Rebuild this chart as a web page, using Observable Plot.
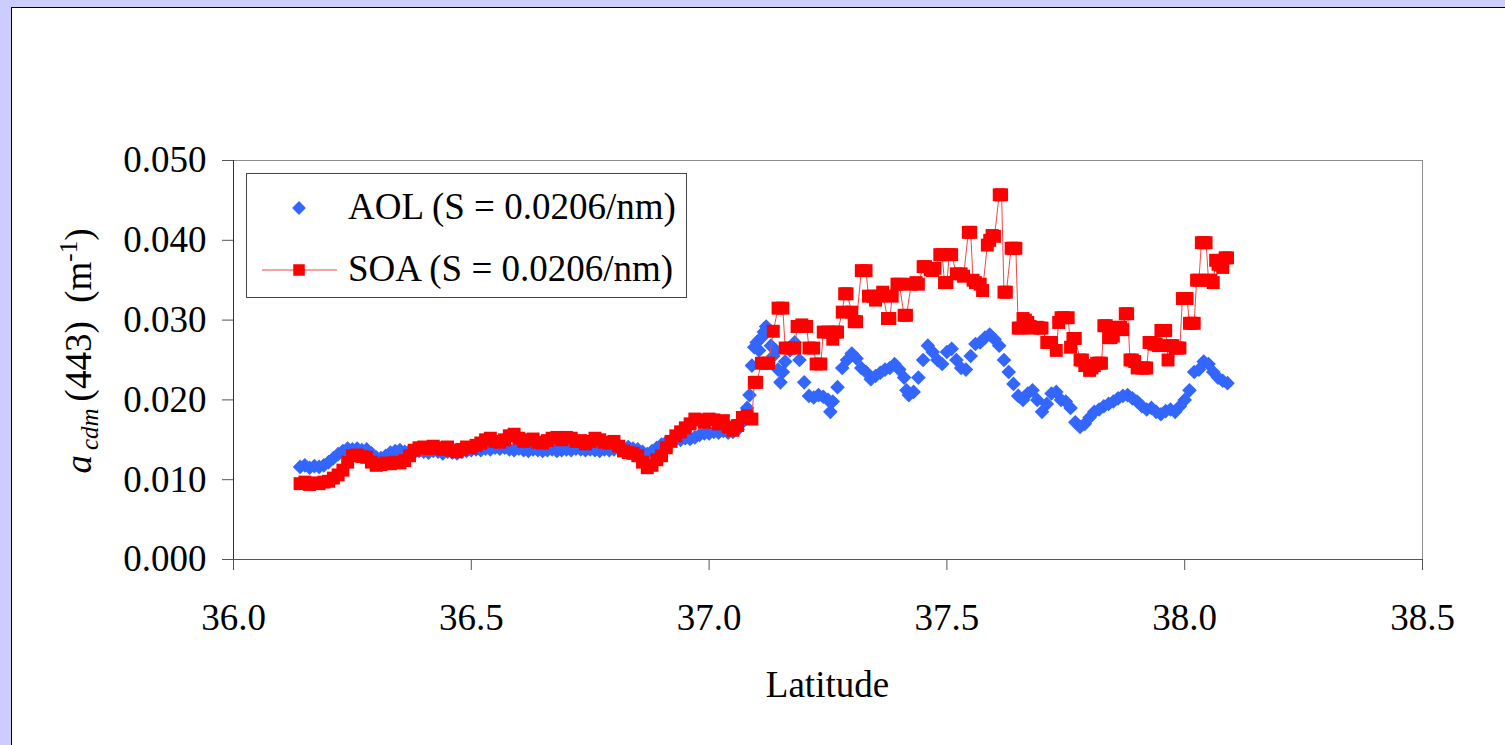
<!DOCTYPE html>
<html>
<head>
<meta charset="utf-8">
<script src="https://cdn.jsdelivr.net/npm/d3@7"></script>
<script src="https://cdn.jsdelivr.net/npm/@observablehq/plot@0.6"></script>
<style>
  html, body { margin: 0; padding: 0; width: 1505px; height: 745px; overflow: hidden; background: #ccccff; }
  #panel { position: absolute; left: 11px; top: 7px; right: 0; bottom: 0; background: #fff; border-left: 1.5px solid #000; border-top: 1.5px solid #000; }
  #chart { position: absolute; left: 0; top: 0; }
</style>
</head>
<body>
<div id="panel"></div>
<div id="chart"></div>
<script>
// ---------- data ----------
const xTicks = [36.0, 36.5, 37.0, 37.5, 38.0, 38.5];
const yTicks = [0.000, 0.010, 0.020, 0.030, 0.040, 0.050];
const seriesNames = ["AOL (S = 0.0206/nm)", "SOA (S = 0.0206/nm)"];

const aolLat = [
36.14,36.15,36.16,36.17,36.18,36.19,36.20,36.21,36.22,36.23,36.24,36.25,36.26,36.27,36.28,36.29,
36.30,36.31,36.32,36.33,36.34,36.35,36.36,36.37,36.38,36.39,36.40,36.41,36.42,36.43,36.44,36.45,
36.46,36.47,36.48,36.49,36.50,36.51,36.52,36.53,36.54,36.55,36.56,36.57,36.58,36.59,36.60,36.61,
36.62,36.63,36.64,36.65,36.66,36.67,36.68,36.69,36.70,36.71,36.72,36.73,36.74,36.75,36.76,36.77,
36.78,36.79,36.80,36.81,36.82,36.83,36.84,36.85,36.86,36.87,36.88,36.89,36.90,36.91,36.92,36.93,
36.94,36.95,36.96,36.97,36.98,36.99,37.00,37.01,37.02,37.03,37.04,37.05,37.06,37.07,37.08,
37.085,37.09,37.095,37.10,37.105,37.11,37.115,37.12,37.125,37.13,37.135,37.14,37.145,37.15,37.155,
37.16,37.17,37.18,37.19,37.20,37.21,37.22,37.23,37.24,37.25,37.255,37.26,37.27,37.28,37.29,37.30,
37.31,37.32,37.33,37.34,37.35,37.36,37.37,37.38,37.39,37.40,37.41,37.415,37.42,37.43,37.44,37.45,
37.46,37.47,37.48,37.49,37.50,37.51,37.52,37.53,37.54,37.55,37.56,37.57,37.58,37.59,37.60,37.61,
37.62,37.63,37.64,37.65,37.66,37.67,37.68,37.69,37.70,37.71,37.72,37.73,37.74,37.75,37.76,37.77,
37.78,37.79,37.80,37.81,37.82,37.83,37.84,37.85,37.86,37.87,37.88,37.89,37.90,37.91,37.92,37.93,
37.94,37.95,37.96,37.97,37.98,37.99,38.00,38.01,38.02,38.03,38.04,38.05,38.06,38.07,38.08,38.09
];
const aolVal = [
0.0116,0.0118,0.0115,0.0117,0.0116,0.0118,0.0122,0.0127,0.0132,0.0136,0.0139,0.0138,0.0139,0.0137,0.0138,0.0133,
0.0128,0.0127,0.0130,0.0134,0.0136,0.0137,0.0135,0.0136,0.0134,0.0136,0.0135,0.0134,0.0136,0.0135,0.0133,0.0135,
0.0134,0.0133,0.0135,0.0136,0.0137,0.0138,0.0137,0.0139,0.0138,0.0140,0.0139,0.0140,0.0138,0.0137,0.0139,0.0137,
0.0136,0.0138,0.0137,0.0136,0.0137,0.0138,0.0136,0.0137,0.0138,0.0137,0.0139,0.0138,0.0137,0.0138,0.0137,0.0136,
0.0138,0.0137,0.0138,0.0139,0.0140,0.0141,0.0139,0.0138,0.0135,0.0132,0.0136,0.0140,0.0144,0.0147,0.0149,0.0151,
0.0150,0.0152,0.0151,0.0153,0.0156,0.0158,0.0158,0.0160,0.0159,0.0161,0.0159,0.0160,0.0163,0.0172,0.0190,
0.0206,0.0243,0.0266,0.0272,0.0262,0.0278,0.0285,0.0292,0.0288,0.0268,0.0255,0.0262,0.0238,0.0222,0.0235,
0.0248,0.0262,0.0272,0.0250,0.0222,0.0205,0.0203,0.0206,0.0204,0.0200,0.0185,0.0198,0.0216,0.0240,0.0250,0.0258,
0.0252,0.0240,0.0235,0.0226,0.0230,0.0234,0.0238,0.0240,0.0245,0.0238,0.0228,0.0212,0.0206,0.0210,0.0228,0.0250,
0.0268,0.0260,0.0250,0.0245,0.0260,0.0264,0.0250,0.0240,0.0238,0.0255,0.0270,0.0272,0.0278,0.0282,0.0276,0.0268,
0.0250,0.0235,0.0220,0.0205,0.0200,0.0208,0.0212,0.0200,0.0185,0.0195,0.0208,0.0210,0.0200,0.0198,0.0190,0.0172,
0.0166,0.0170,0.0178,0.0185,0.0188,0.0192,0.0195,0.0198,0.0202,0.0205,0.0206,0.0202,0.0198,0.0192,0.0188,0.0190,
0.0185,0.0182,0.0186,0.0188,0.0185,0.0192,0.0200,0.0212,0.0235,0.0238,0.0248,0.0245,0.0235,0.0228,0.0224,0.0221
];

const soaLat = [
36.14,36.15,36.16,36.17,36.18,36.19,36.20,36.21,36.22,36.23,36.24,36.25,36.26,36.27,36.28,36.29,
36.30,36.31,36.32,36.33,36.34,36.35,36.36,36.37,36.38,36.39,36.40,36.41,36.42,36.43,36.44,36.45,
36.46,36.47,36.48,36.49,36.50,36.51,36.52,36.53,36.54,36.55,36.56,36.57,36.58,36.59,36.60,36.61,
36.62,36.63,36.64,36.65,36.66,36.67,36.68,36.69,36.70,36.71,36.72,36.73,36.74,36.75,36.76,36.77,
36.78,36.79,36.80,36.81,36.82,36.83,36.84,36.85,36.86,36.87,36.88,36.89,36.90,36.91,36.92,36.93,
36.94,36.95,36.96,36.97,36.98,36.99,37.00,37.01,37.02,37.03,37.04,37.05,37.06,37.07,
37.08,37.09,37.095,37.10,37.11,37.12,37.125,37.135,37.145,37.155,37.16,37.17,37.18,37.185,37.195,37.205,
37.21,37.22,37.225,37.235,37.24,37.25,37.26,37.265,37.27,37.28,37.285,37.29,37.30,37.305,37.31,37.32,
37.33,37.335,37.345,37.35,37.36,37.365,37.375,37.38,37.385,37.395,37.40,37.41,37.415,37.425,37.435,37.44,
37.45,37.455,37.465,37.47,37.475,37.485,37.49,37.495,37.50,37.505,37.51,37.52,37.53,37.535,37.545,37.55,
37.555,37.56,37.57,37.575,37.585,37.59,37.595,37.60,37.61,37.615,37.62,37.625,37.635,37.64,37.645,37.65,
37.655,37.66,37.665,37.67,37.675,37.68,37.69,37.695,37.70,37.71,37.715,37.72,37.73,37.735,37.74,37.745,
37.755,37.76,37.765,37.77,37.78,37.785,37.79,37.80,37.805,37.81,37.815,37.82,37.825,37.83,37.835,37.84,
37.845,37.85,37.86,37.865,37.87,37.875,37.88,37.885,37.89,37.895,37.90,37.91,37.915,37.92,37.925,37.93,
37.935,37.94,37.945,37.95,37.955,37.96,37.965,37.97,37.975,37.98,37.985,37.99,37.995,38.00,38.005,38.01,
38.015,38.02,38.025,38.03,38.035,38.04,38.045,38.05,38.055,38.06,38.065,38.07,38.075,38.08,38.085,38.09
];
const soaVal = [
0.0095,0.0097,0.0094,0.0096,0.0095,0.0097,0.0098,0.0102,0.0106,0.0112,0.0122,0.0130,0.0131,0.0129,0.0128,0.0122,
0.0118,0.0119,0.0121,0.0120,0.0122,0.0121,0.0124,0.0130,0.0137,0.0140,0.0141,0.0139,0.0142,0.0140,0.0138,0.0141,
0.0137,0.0135,0.0138,0.0141,0.0140,0.0143,0.0146,0.0150,0.0152,0.0148,0.0147,0.0150,0.0155,0.0157,0.0152,0.0148,
0.0150,0.0151,0.0147,0.0146,0.0149,0.0152,0.0153,0.0150,0.0153,0.0152,0.0148,0.0149,0.0145,0.0148,0.0152,0.0150,
0.0147,0.0146,0.0148,0.0142,0.0136,0.0134,0.0133,0.0130,0.0122,0.0115,0.0118,0.0125,0.0130,0.0140,0.0148,0.0155,
0.0160,0.0165,0.0170,0.0176,0.0175,0.0172,0.0176,0.0175,0.0170,0.0174,0.0166,0.0162,0.0168,0.0178,
0.0180,0.0176,0.0222,0.0222,0.0246,0.0246,0.0246,0.0286,0.0315,0.0315,0.0265,0.0265,0.0265,0.0292,0.0294,0.0292,
0.0265,0.0265,0.0245,0.0245,0.0285,0.0285,0.0276,0.0285,0.0285,0.0310,0.0333,0.0333,0.0310,0.0298,0.0298,0.0362,
0.0362,0.0330,0.0330,0.0325,0.0330,0.0335,0.0302,0.0302,0.0330,0.0345,0.0345,0.0306,0.0306,0.0345,0.0347,0.0345,
0.0367,0.0367,0.0363,0.0362,0.0365,0.0382,0.0382,0.0347,0.0347,0.0382,0.0382,0.0358,0.0358,0.0355,0.0410,0.0410,
0.0350,0.0347,0.0345,0.0337,0.0394,0.0400,0.0406,0.0405,0.0457,0.0457,0.0335,0.0335,0.0390,0.0390,0.0390,0.0290,
0.0290,0.0302,0.0300,0.0297,0.0292,0.0290,0.0291,0.0290,0.0290,0.0272,0.0272,0.0272,0.0262,0.0297,0.0303,0.0303,
0.0303,0.0266,0.0277,0.0277,0.0250,0.0250,0.0243,0.0237,0.0240,0.0243,0.0246,0.0246,0.0246,0.0293,0.0293,0.0278,
0.0278,0.0280,0.0291,0.0291,0.0288,0.0308,0.0308,0.0250,0.0250,0.0248,0.0240,0.0240,0.0240,0.0240,0.0272,0.0272,
0.0270,0.0270,0.0268,0.0287,0.0287,0.0287,0.0250,0.0268,0.0268,0.0265,0.0265,0.0265,0.0327,0.0327,0.0327,0.0296,
0.0296,0.0296,0.0350,0.0350,0.0397,0.0397,0.0397,0.0350,0.0350,0.0347,0.0375,0.0370,0.0369,0.0366,0.0378,0.0378
];

const aol = aolLat.map((x, i) => ({lat: x, v: aolVal[i]}));
const soa = soaLat.map((x, i) => ({lat: x, v: soaVal[i]}));

// ---------- styling ----------
const BLUE = "#3366ff", RED = "#ff0000", REDLINE = "#f24848";
const serif = "'Liberation Serif', 'Times New Roman', Times, serif";
const W = 1505, H = 745, ML = 233, MR = 83, MT = 160, MB = 186;
const RB = 6.6, RR = 7.3;

const svg = Plot.plot({
  width: W, height: H,
  marginLeft: ML, marginRight: MR, marginTop: MT, marginBottom: MB,
  x: {domain: [36, 38.5]},
  y: {domain: [0, 0.05]},
  style: {background: "transparent", fontFamily: serif, fontSize: "37px", color: "#000", overflow: "visible"},
  marks: [
    Plot.frame({stroke: "#8c8c8c"}),
    Plot.axisX({ticks: xTicks, tickFormat: d3.format(".1f"), tickSize: 11, tickPadding: 33, label: null, stroke: "#555", fill: "#000"}),
    Plot.axisY({ticks: yTicks, tickFormat: d3.format(".3f"), tickSize: 11, tickPadding: 16, label: null, stroke: "#555", fill: "#000"}),
    Plot.ruleY([0], {stroke: "#555"}),
    Plot.ruleX([36], {stroke: "#333"}),
    Plot.dot(aol, {x: "lat", y: "v", symbol: "diamond2", fill: BLUE, r: RB}),
    Plot.line(soa, {x: "lat", y: "v", stroke: REDLINE, strokeWidth: 1}),
    Plot.dot(soa, {x: "lat", y: "v", symbol: "square", fill: RED, r: RR})
  ]
});

document.getElementById("chart").appendChild(svg);

const s = d3.select(svg);

// x-axis title
s.append("text")
  .attr("x", (ML + W - MR) / 2).attr("y", 697)
  .attr("text-anchor", "middle")
  .style("font-size", "37px").attr("fill", "#000")
  .text("Latitude");

// y-axis title: a_cdm(443)  (m^-1)
const yl = s.append("text")
  .attr("transform", "translate(91,351) rotate(-90)")
  .attr("text-anchor", "middle")
  .attr("xml:space", "preserve")
  .style("font-size", "37px").attr("fill", "#000");
yl.append("tspan").style("font-style", "italic").text("a");
yl.append("tspan").style("font-style", "italic").style("font-size", "25px").attr("dx", 5).attr("dy", 7).text("cdm");
yl.append("tspan").attr("dy", -7).attr("dx", 7).text("(443)  (m");
yl.append("tspan").style("font-size", "25px").attr("dy", -14).text("-1");
yl.append("tspan").attr("dy", 14).text(")");

// legend
const lg = s.append("g").attr("text-anchor", "start");
lg.append("rect").attr("x", 246.5).attr("y", 173.5).attr("width", 440).attr("height", 124)
  .attr("fill", "#fff").attr("stroke", "#444").attr("stroke-width", 1);
lg.append("path").attr("d", d3.symbol(d3.symbolDiamond2, Math.PI * 6.2 * 6.2)()).attr("transform", "translate(299,208)").attr("fill", BLUE);
lg.append("line").attr("x1", 262).attr("x2", 337).attr("y1", 270).attr("y2", 270).attr("stroke", REDLINE).attr("stroke-width", 1);
lg.append("path").attr("d", d3.symbol(d3.symbolSquare, Math.PI * 6.5 * 6.5)()).attr("transform", "translate(299,270)").attr("fill", RED);
lg.append("text").attr("x", 348).attr("y", 219).attr("text-anchor", "start").style("font-size", "37px").attr("fill", "#000").text(seriesNames[0]);
lg.append("text").attr("x", 348).attr("y", 281).attr("text-anchor", "start").style("font-size", "37px").attr("fill", "#000").text(seriesNames[1]);
</script>
</body>
</html>
